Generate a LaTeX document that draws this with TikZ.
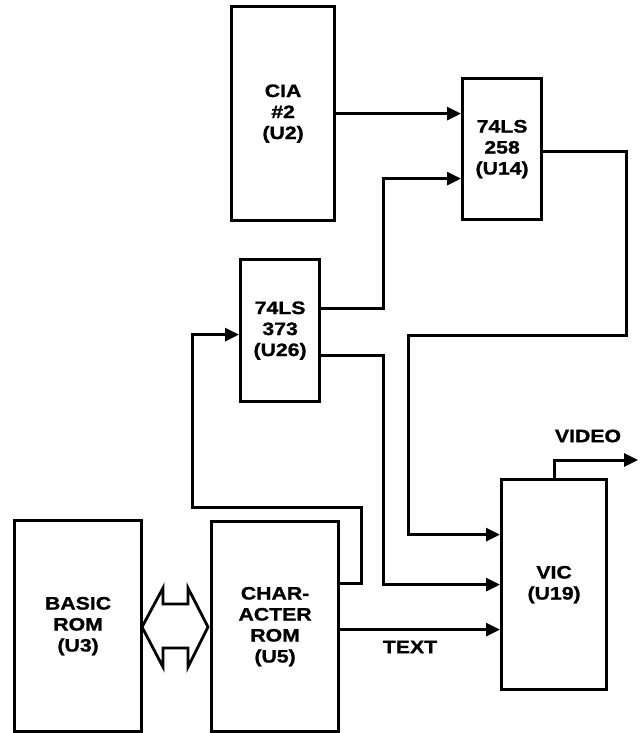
\documentclass[tikz,border=0pt]{standalone}
\usepackage{fontspec}
\setmainfont{Liberation Sans}[FakeStretch=1.18,FakeBold=1.2]
\usetikzlibrary{arrows.meta,calc}
\begin{document}
\begin{tikzpicture}[x=1pt,y=-1pt,
  box/.style={draw,line width=3.2pt,anchor=north west,inner sep=0pt,align=center,
    font=\fontsize{18}{21}\selectfont\bfseries},
  arr/.style={line width=3pt,-{Triangle[length=14pt,width=13pt]}},
  lbl/.style={font=\fontsize{18}{21}\selectfont\bfseries}]
\useasboundingbox (0,0) rectangle (640,733);
\fill[white] (0,0) rectangle (640,733);

\node[box,minimum width=103pt,minimum height=214pt] (cia) at (230,5) {CIA\\\#2\\(U2)};
\node[box,minimum width=79pt,minimum height=141pt] (u14) at (461,77) {74LS\\258\\(U14)};
\node[box,minimum width=79pt,minimum height=142pt] (u26) at (239,258) {74LS\\373\\(U26)};
\node[box,minimum width=127pt,minimum height=211pt] (basic) at (13,519) {BASIC\\ROM\\(U3)};
\node[box,minimum width=127pt,minimum height=210pt] (char) at (210,520) {CHAR-\\ACTER\\ROM\\(U5)};
\node[box,minimum width=105pt,minimum height=210pt] (vic) at (500,478) {VIC\\(U19)};

% CIA -> 74LS258
\draw[arr] (cia.east) -- (cia.east -| u14.west);
% 74LS373 -> 74LS258
\draw[arr] ([yshift=22pt]u26.east) -- ++(62,0) |- ([yshift=-29.5pt]u14.west);
% 74LS373 -> VIC
\draw[arr] ([yshift=-25pt]u26.east) -- ++(62,0) |- (vic.west);
% 74LS258 -> VIC
\coordinate (j1) at (408,335);
\draw[arr] ([yshift=-2.5pt]u14.east) -- ++(83,0) |- (j1) |- ([yshift=50pt]vic.west);
% Character ROM -> 74LS373
\coordinate (c2) at (192,507);
\draw[arr] ([yshift=43pt]char.east) -- ++(21,0) |- (c2) |- ([yshift=-4pt]u26.west);
% TEXT
\path ([yshift=-3pt]char.east) coordinate (t0);
\draw[arr] (t0) -- (t0 -| vic.west);
\node[lbl] (textlbl) at (410,647) {TEXT};
% VIDEO
\coordinate (vout) at (638,460);
\draw[arr] (vic.north) |- (vout);
\node[lbl] (videolbl) at (588,436) {VIDEO};

% hollow double arrow between BASIC ROM and CHARACTER ROM
\draw[line width=2.8pt,line join=miter]
  (142,627) -- (163,588) -- (163,604) -- (188,604) -- (188,588) -- (208,627)
  -- (188,667) -- (188,648) -- (163,648) -- (163,667) -- cycle;
\end{tikzpicture}
\end{document}
